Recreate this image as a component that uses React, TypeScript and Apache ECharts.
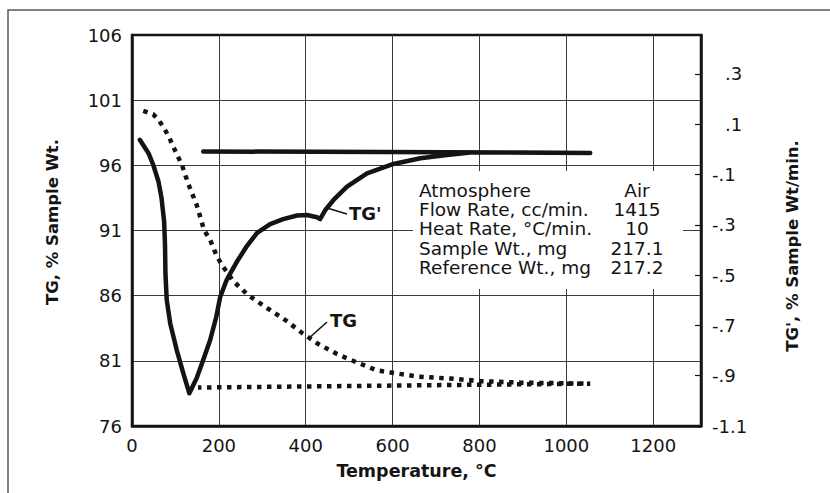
import React, { useEffect, useRef } from "react";
import * as echarts from "echarts";

// Axis tick values
const xTickValues = [0, 200, 400, 600, 800, 1000, 1200];
const tgTickValues = [76, 81, 86, 91, 96, 101, 106];
const dtgTickValues = [-1.1, -0.9, -0.7, -0.5, -0.3, -0.1, 0.1, 0.3];

// TG curve (% sample weight) incl. the plotter's return stroke
const tgTemp = [26, 49, 63, 74, 85, 95, 115, 130, 149, 166, 180, 194, 207, 233, 267, 311, 353, 392, 429, 472, 516, 562, 611, 659, 733, 802, 894, 1055, 152];
const tgWeight = [100.17, 99.91, 99.4, 98.84, 98.19, 97.43, 96.02, 94.54, 92.95, 91.03, 90.27, 89.12, 88.35, 87.12, 86.05, 85.05, 84.13, 83.13, 82.29, 81.52, 80.9, 80.29, 80.02, 79.79, 79.64, 79.45, 79.33, 79.25, 78.95];

// TG' curve (% sample wt/min) incl. the plotter's return stroke
const dtgTemp = [18, 38, 49, 61, 68, 74, 76, 77, 80, 88, 103, 118, 132, 149, 164, 180, 194, 203, 218, 241, 263, 288, 318, 348, 380, 403, 426, 433, 445, 464, 495, 541, 602, 664, 725, 779, 894, 1055, 164];
const dtgRate = [0.038, -0.015, -0.062, -0.128, -0.194, -0.287, -0.38, -0.493, -0.599, -0.692, -0.798, -0.89, -0.97, -0.909, -0.837, -0.758, -0.666, -0.587, -0.519, -0.448, -0.388, -0.332, -0.297, -0.277, -0.263, -0.261, -0.27, -0.277, -0.241, -0.201, -0.148, -0.095, -0.058, -0.035, -0.022, -0.012, -0.012, -0.014, -0.008];

// Experiment info table
const infoLabels = ["Atmosphere", "Flow Rate, cc/min.", "Heat Rate, \u00B0C/min.", "Sample Wt., mg", "Reference Wt., mg"];
const infoValues = ["Air", "1415", "10", "217.1", "217.2"];

const FONT = "DejaVu Sans";
const INK = "#141414";
const GRID = "#3a3a3a";

const fmtRate = (v: number) => {
  const s = Math.abs(v).toFixed(1).replace(/^0/, "");
  return v < 0 ? "-" + s : s;
};

export default function App() {
  const ref = useRef<HTMLDivElement>(null);

  useEffect(() => {
    if (!ref.current) return;
    const chart = echarts.init(ref.current, null, { renderer: "svg" });

    const tgData = tgTemp.map((t, i) => [t, tgWeight[i]]);
    const dtgData = dtgTemp.map((t, i) => [t, dtgRate[i]]);

    const tableTexts: any[] = [];
    infoLabels.forEach((lab, i) => {
      const y = 190 + i * 19.4;
      tableTexts.push({
        type: "text",
        x: 419,
        y,
        z: 3,
        style: { text: lab, fontFamily: FONT, fontSize: 18.5, fill: INK, align: "left", verticalAlign: "middle" },
      });
      tableTexts.push({
        type: "text",
        x: 637,
        y,
        z: 3,
        style: { text: infoValues[i], fontFamily: FONT, fontSize: 18.5, fill: INK, align: "center", verticalAlign: "middle" },
      });
    });

    chart.setOption({
      animation: false,
      backgroundColor: "#ffffff",
      grid: {
        left: 132,
        right: 129,
        top: 35,
        bottom: 67,
        show: true,
        borderColor: INK,
        borderWidth: 2.5,
        backgroundColor: "transparent",
        outerBoundsMode: "none",
      },
      xAxis: {
        type: "value",
        min: 0,
        max: 1310,
        name: "Temperature, \u00B0C",
        nameLocation: "middle",
        nameGap: 36,
        nameTextStyle: { fontFamily: FONT, fontSize: 17.5, fontWeight: "bold", color: INK },
        axisLine: { show: true, onZero: false, lineStyle: { color: INK, width: 2.5 } },
        axisTick: { show: false, customValues: xTickValues },
        axisLabel: {
          customValues: xTickValues,
          margin: 10,
          fontFamily: FONT,
          fontSize: 18,
          color: INK,
          formatter: (v: number) => String(v),
        },
        splitLine: { show: true, lineStyle: { color: GRID, width: 1 } },
      },
      yAxis: [
        {
          type: "value",
          position: "left",
          min: 76,
          max: 106,
          axisLine: { show: true, onZero: false, lineStyle: { color: INK, width: 2.5 } },
          axisTick: { show: false, customValues: tgTickValues.slice(1, -1) },
          axisLabel: { customValues: tgTickValues, margin: 10, fontFamily: FONT, fontSize: 18, color: INK },
          splitLine: { show: true, lineStyle: { color: GRID, width: 1 } },
        },
        {
          type: "value",
          position: "right",
          min: -1.1,
          max: 0.455,
          axisLine: { show: true, onZero: false, lineStyle: { color: INK, width: 2.5 } },
          axisTick: { show: true, inside: true, length: 6, customValues: dtgTickValues, lineStyle: { color: INK, width: 1.2 } },
          axisLabel: {
            customValues: dtgTickValues,
            margin: 11,
            fontFamily: FONT,
            fontSize: 18,
            color: INK,
            formatter: (v: number) => (v > 0 ? `{p|${fmtRate(v)}}` : fmtRate(v)),
            rich: { p: { padding: [0, 0, 0, 13], fontFamily: FONT, fontSize: 18, color: INK } },
          },
          splitLine: { show: false },
        },
      ],
      series: [
        {
          name: "TG",
          type: "line",
          yAxisIndex: 0,
          data: tgData,
          symbol: "none",
          smooth: false,
          lineStyle: { color: INK, width: 4.5, type: [4.5, 5.5], cap: "butt" },
          z: 3,
        },
        {
          name: "TG'",
          type: "line",
          yAxisIndex: 1,
          data: dtgData,
          symbol: "none",
          smooth: false,
          lineStyle: { color: INK, width: 4.5, join: "round", cap: "round" },
          z: 4,
        },
      ],
      graphic: [
        {
          type: "polyline",
          z: 0,
          shape: { points: [[8, 540], [8, 10], [860, 10]] },
          style: { stroke: "#5a5a5a", lineWidth: 1.5, fill: null },
        },
        {
          type: "rect",
          z: 1,
          shape: { x: 413, y: 171, width: 270, height: 118 },
          style: { fill: "#ffffff" },
        },
        ...tableTexts,
        {
          type: "line",
          z: 5,
          shape: { x1: 327, y1: 208, x2: 347, y2: 214 },
          style: { stroke: INK, lineWidth: 1.6 },
        },
        {
          type: "text",
          x: 349,
          y: 213,
          z: 5,
          style: { text: "TG'", fontFamily: FONT, fontSize: 18, fontWeight: "bold", fill: INK, align: "left", verticalAlign: "middle" },
        },
        {
          type: "line",
          z: 5,
          shape: { x1: 308, y1: 339, x2: 327, y2: 322 },
          style: { stroke: INK, lineWidth: 1.6 },
        },
        {
          type: "text",
          x: 330,
          y: 320,
          z: 5,
          style: { text: "TG", fontFamily: FONT, fontSize: 18, fontWeight: "bold", fill: INK, align: "left", verticalAlign: "middle" },
        },
        {
          type: "text",
          x: 52,
          y: 222,
          rotation: Math.PI / 2,
          z: 5,
          style: { text: "TG, % Sample Wt.", fontFamily: FONT, fontSize: 16.5, fontWeight: "bold", fill: INK, align: "center", verticalAlign: "middle" },
        },
        {
          type: "text",
          x: 792,
          y: 246,
          rotation: Math.PI / 2,
          z: 5,
          style: { text: "TG', % Sample Wt/min.", fontFamily: FONT, fontSize: 16.5, fontWeight: "bold", fill: INK, align: "center", verticalAlign: "middle" },
        },
      ],
    });

    return () => chart.dispose();
  }, []);

  return (
    <div
      ref={ref}
      style={{ position: "fixed", left: 0, top: 0, width: 830, height: 493, background: "#fff" }}
    />
  );
}
